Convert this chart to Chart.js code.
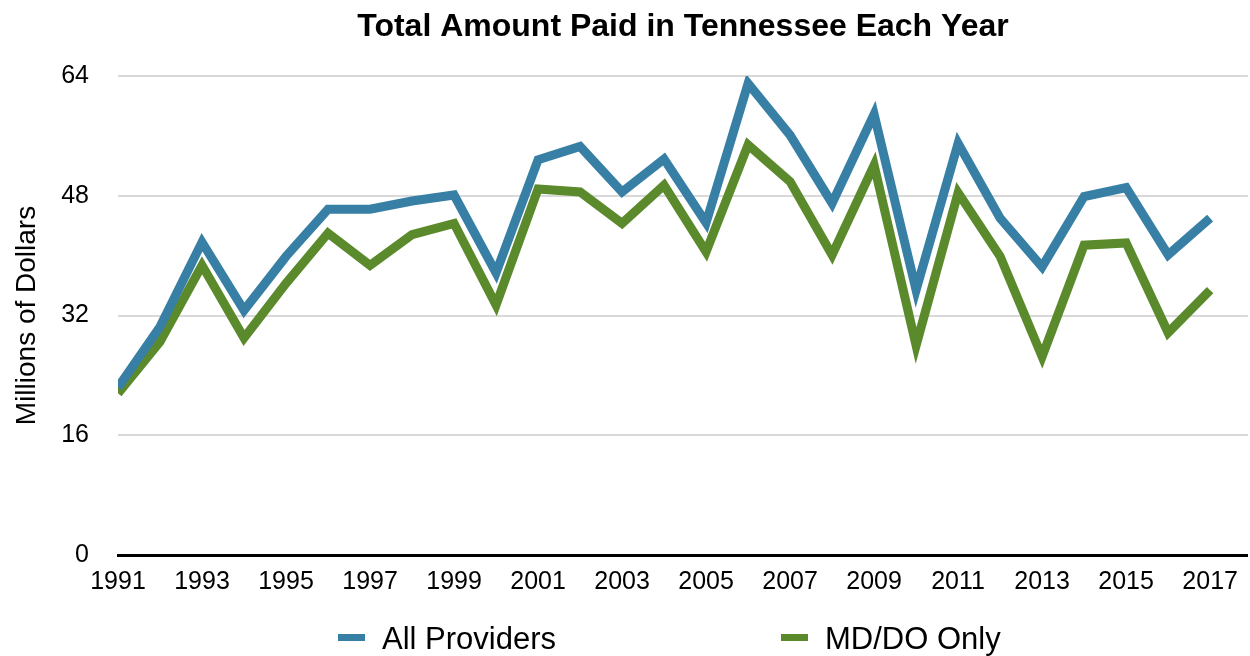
<!DOCTYPE html>
<html>
<head>
<meta charset="utf-8">
<script src="https://cdn.jsdelivr.net/npm/chart.js@4"></script>
<style>
  html, body { margin: 0; padding: 0; background: #fff; }
  #wrap { width: 1250px; height: 656px; }
</style>
</head>
<body>
<div id="wrap"><canvas id="paidChart"></canvas></div>
<script>
// data
const years = [1991, 1992, 1993, 1994, 1995, 1996, 1997, 1998, 1999, 2000,
    2001, 2002, 2003, 2004, 2005, 2006, 2007, 2008, 2009, 2010,
    2011, 2012, 2013, 2014, 2015, 2016, 2017];
const allProviders = [22.4, 30.5, 41.8, 32.7, 39.9, 46.2, 46.2, 47.3, 48.1, 37.7,
    52.8, 54.6, 48.5, 52.9, 44.4, 63.0, 56.1, 47.0, 58.9, 35.4,
    55.0, 45.0, 38.5, 47.9, 49.1, 40.1, 45.0];
const mdDoOnly = [21.6, 28.5, 38.7, 29.0, 36.3, 43.0, 38.7, 42.8, 44.3, 33.4,
    48.9, 48.5, 44.3, 49.4, 40.5, 54.8, 49.9, 40.1, 52.1, 28.0,
    48.4, 39.9, 26.5, 41.4, 41.7, 29.7, 35.4];
const xTicks = [1991, 1993, 1995, 1997, 1999, 2001, 2003, 2005, 2007, 2009, 2011, 2013, 2015, 2017];
const yTicks = [0, 16, 32, 48, 64];

const FONT = "'Liberation Sans', Arial, sans-serif";
const BLUE = '#377fa4';
const GREEN = '#5a8a2b';

function toPoints(vals) {
    return years.map((y, i) => ({ x: y, y: vals[i] }));
}

// title + legend drawn by hand so they sit where the original has them
const decorPlugin = {
    id: 'decor',
    afterDraw(chart) {
        const c = chart.ctx;
        const area = chart.chartArea;
        c.save();
        c.fillStyle = '#000';
        c.textBaseline = 'middle';
        c.textAlign = 'center';
        c.font = 'bold 32px ' + FONT;
        c.fillText('Total Amount Paid in Tennessee Each Year', (area.left + area.right) / 2, 27);

        // legend
        c.font = '31px ' + FONT;
        c.textAlign = 'left';
        const items = [
            { x: 338, ds: chart.data.datasets[0] },
            { x: 781, ds: chart.data.datasets[1] }
        ];
        items.forEach(it => {
            c.fillStyle = it.ds.borderColor;
            c.fillRect(it.x, 634, 27, 7);
            c.fillStyle = '#000';
            c.fillText(it.ds.label, it.x + 44, 640);
        });
        c.restore();
    }
};

const ctx = document.getElementById('paidChart').getContext('2d');
const paidChart = new Chart(ctx, {
    type: 'line',
    data: {
        datasets: [{
            label: 'All Providers',
            data: toPoints(allProviders),
            borderColor: BLUE,
            backgroundColor: BLUE,
            borderWidth: 9,
            borderJoinStyle: 'miter',
            borderCapStyle: 'butt',
            pointRadius: 0,
            tension: 0
        }, {
            label: 'MD/DO Only',
            data: toPoints(mdDoOnly),
            borderColor: GREEN,
            backgroundColor: GREEN,
            borderWidth: 9,
            borderJoinStyle: 'miter',
            borderCapStyle: 'butt',
            pointRadius: 0,
            tension: 0
        }]
    },
    plugins: [decorPlugin],
    options: {
        responsive: true,
        maintainAspectRatio: false,
        animation: false,
        layout: { padding: { left: 0, right: 2, top: 76, bottom: 55 } },
        plugins: {
            tooltip: { enabled: false },
            title: { display: false },
            legend: { display: false }
        },
        scales: {
            x: {
                type: 'linear',
                min: 1991,
                max: 2017.9,
                afterBuildTicks: function(scale) {
                    scale.ticks = xTicks.map(v => ({ value: v }));
                },
                grid: { display: false, drawTicks: false },
                border: { display: true, color: '#000', width: 3 },
                ticks: {
                    color: '#000',
                    font: { family: FONT, size: 25 },
                    padding: 12,
                    maxRotation: 0,
                    autoSkip: false,
                    callback: v => String(v)
                },
                afterFit: function(scale) { scale.height = 46; }
            },
            y: {
                min: 0,
                max: 64,
                afterBuildTicks: function(scale) {
                    scale.ticks = yTicks.map(v => ({ value: v }));
                },
                grid: { color: '#d9d9d9', lineWidth: 2, drawTicks: false },
                border: { display: false },
                ticks: {
                    color: '#000',
                    font: { family: FONT, size: 25 },
                    padding: 29
                },
                title: {
                    display: true,
                    text: 'Millions of Dollars',
                    color: '#000',
                    font: { family: FONT, size: 28 },
                    padding: { top: 10, bottom: 0 }
                },
                afterFit: function(scale) { scale.width = 118; }
            }
        }
    }
});
</script>
</body>
</html>
